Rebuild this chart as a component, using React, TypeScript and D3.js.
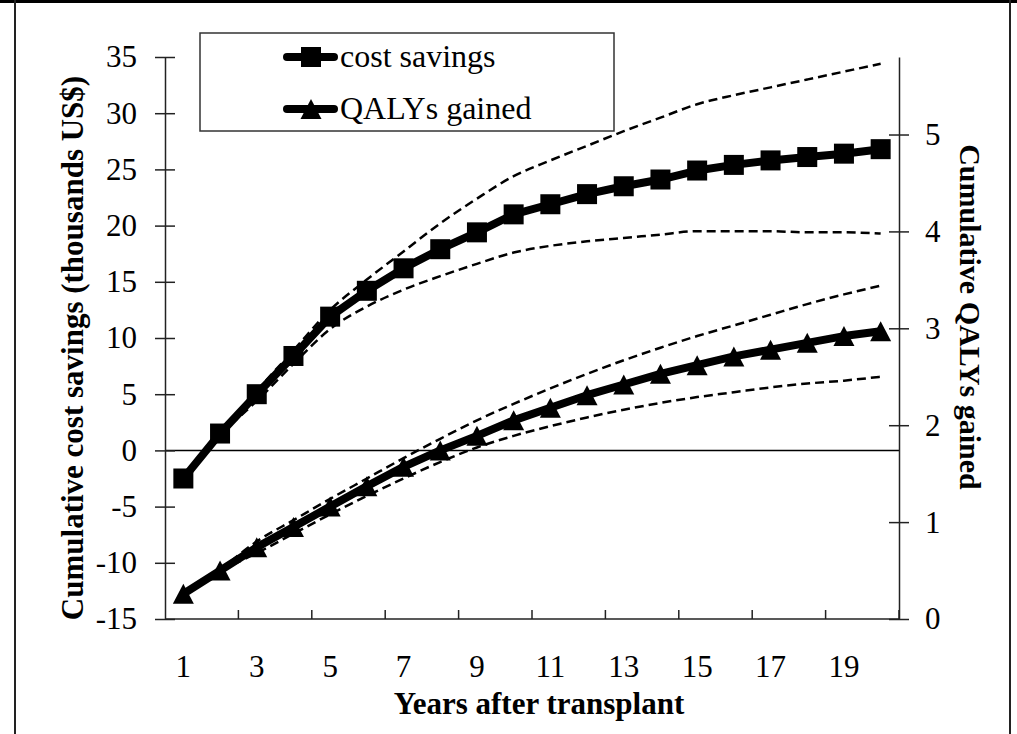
import React, { useEffect, useRef } from 'react';
import * as d3 from 'd3';

// years after transplant (categories)
const years = [1, 2, 3, 4, 5, 6, 7, 8, 9, 10, 11, 12, 13, 14, 15, 16, 17, 18, 19, 20];
const xTickLabels = [1, 3, 5, 7, 9, 11, 13, 15, 17, 19];

// cumulative cost savings, thousands US$ (left axis)
const costSavings = [-2.5, 1.5, 5.0, 8.4, 11.9, 14.2, 16.2, 17.9, 19.4, 21.0, 21.9, 22.8, 23.5, 24.1, 24.9, 25.4, 25.8, 26.1, 26.4, 26.8];
const costUpper = [null, 1.5, 5.3, 8.9, 12.5, 15.2, 17.7, 20.2, 22.4, 24.4, 25.8, 27.1, 28.4, 29.6, 30.8, 31.6, 32.3, 33.0, 33.7, 34.4];
const costLower = [null, 1.5, 4.4, 7.7, 10.8, 12.8, 14.3, 15.5, 16.6, 17.6, 18.2, 18.6, 18.9, 19.2, 19.5, 19.5, 19.5, 19.4, 19.4, 19.3];

// cumulative QALYs gained (right axis)
const qalys = [0.26, 0.50, 0.74, 0.95, 1.16, 1.37, 1.57, 1.74, 1.89, 2.05, 2.18, 2.31, 2.42, 2.53, 2.62, 2.71, 2.78, 2.85, 2.92, 2.97];
const qalyUpper = [null, 0.50, 0.80, 1.02, 1.24, 1.45, 1.66, 1.86, 2.05, 2.22, 2.38, 2.53, 2.67, 2.80, 2.92, 3.03, 3.14, 3.25, 3.35, 3.44];
const qalyLower = [null, 0.50, 0.68, 0.88, 1.08, 1.27, 1.45, 1.62, 1.77, 1.89, 1.99, 2.08, 2.16, 2.23, 2.29, 2.34, 2.39, 2.43, 2.46, 2.50];

const leftTicks = [-15, -10, -5, 0, 5, 10, 15, 20, 25, 30, 35];
const rightTicks = [0, 1, 2, 3, 4, 5];

const FONT = "'Liberation Serif', 'Times New Roman', serif";

const triPath = 'M0,-10L10.5,10L-10.5,10Z';

const App = () => {
  const svgRef = useRef<SVGSVGElement>(null);

  useEffect(() => {
    const width = 1017;
    const height = 734;
    const left = 165, right = 899, top = 57, bottom = 619;

    const svg = d3.select(svgRef.current);
    svg.selectAll('*').remove();
    svg.attr('width', width).attr('height', height);

    svg.append('rect').attr('width', width).attr('height', height).attr('fill', '#fff');

    // outer frame
    svg.append('line').attr('x1', 0).attr('x2', width).attr('y1', 1.5).attr('y2', 1.5)
      .attr('stroke', '#000').attr('stroke-width', 3);
    svg.append('line').attr('x1', 15).attr('x2', 15).attr('y1', 0).attr('y2', height)
      .attr('stroke', '#222').attr('stroke-width', 2);
    svg.append('line').attr('x1', 1010).attr('x2', 1010).attr('y1', 0).attr('y2', height)
      .attr('stroke', '#222').attr('stroke-width', 2);

    const x = d3.scaleBand<number>().domain(years).range([left, right]).padding(0);
    const xc = (d: number) => (x(d) as number) + x.bandwidth() / 2;
    const yL = d3.scaleLinear().domain([-15, 35]).range([bottom, top]);
    const yR = d3.scaleLinear().domain([0, 5.8]).range([bottom, top]);

    // zero line
    svg.append('line').attr('x1', left).attr('x2', right).attr('y1', yL(0)).attr('y2', yL(0))
      .attr('stroke', '#000').attr('stroke-width', 1.5);

    const dashed = (vals: (number | null)[], y: d3.ScaleLinear<number, number>) => {
      const line = d3.line<number | null>()
        .defined(d => d != null)
        .x((d, i) => xc(years[i]))
        .y(d => y(d as number))
        .curve(d3.curveMonotoneX);
      svg.append('path').attr('d', line(vals))
        .attr('fill', 'none').attr('stroke', '#000').attr('stroke-width', 2.5)
        .attr('stroke-dasharray', '9,5');
    };
    dashed(costUpper, yL);
    dashed(costLower, yL);
    dashed(qalyUpper, yR);
    dashed(qalyLower, yR);

    const mainLine = (vals: number[], y: d3.ScaleLinear<number, number>) => {
      const line = d3.line<number>().x((d, i) => xc(years[i])).y(d => y(d));
      svg.append('path').attr('d', line(vals))
        .attr('fill', 'none').attr('stroke', '#000').attr('stroke-width', 8)
        .attr('stroke-linejoin', 'round').attr('stroke-linecap', 'round');
    };
    mainLine(costSavings, yL);
    mainLine(qalys, yR);

    svg.append('g').selectAll('rect').data(costSavings).enter().append('rect')
      .attr('x', (d, i) => xc(years[i]) - 10).attr('y', d => yL(d) - 10)
      .attr('width', 20).attr('height', 20).attr('fill', '#000');

    svg.append('g').selectAll('path').data(qalys).enter().append('path')
      .attr('d', triPath)
      .attr('transform', (d, i) => `translate(${xc(years[i])},${yR(d)})`)
      .attr('fill', '#000');

    // left axis
    const gL = svg.append('g').attr('transform', `translate(${left},0)`)
      .call(d3.axisLeft(yL).tickValues(leftTicks).tickFormat(d => String(d))
        .tickSizeOuter(0).tickSizeInner(10));
    gL.select('.domain').attr('stroke', '#222').attr('stroke-width', 1.5);
    gL.selectAll('.tick line').attr('x1', -10).attr('x2', 10).attr('stroke', '#222').attr('stroke-width', 1.5);
    gL.selectAll('.tick text').attr('font-family', FONT).attr('font-size', 31).attr('fill', '#000')
      .attr('x', -28);

    // right axis
    const gR = svg.append('g').attr('transform', `translate(${right},0)`)
      .call(d3.axisRight(yR).tickValues(rightTicks).tickFormat(d => String(d))
        .tickSizeOuter(0).tickSizeInner(10));
    gR.select('.domain').attr('stroke', '#222').attr('stroke-width', 1.5);
    gR.selectAll('.tick line').attr('x1', -10).attr('x2', 10).attr('stroke', '#222').attr('stroke-width', 1.5);
    gR.selectAll('.tick text').attr('font-family', FONT).attr('font-size', 31).attr('fill', '#000')
      .attr('x', 26);

    // x axis
    const gX = svg.append('g').attr('transform', `translate(0,${bottom})`)
      .call(d3.axisBottom(x).tickValues(xTickLabels).tickSize(0));
    gX.select('.domain').remove();
    gX.selectAll('.tick text').attr('font-family', FONT).attr('font-size', 31).attr('fill', '#000')
      .attr('y', 58).attr('dy', 0);
    svg.append('line').attr('x1', left).attr('x2', right).attr('y1', bottom).attr('y2', bottom)
      .attr('stroke', '#222').attr('stroke-width', 1.5);
    svg.append('g').selectAll('line').data(years.filter(d => d % 2 === 0)).enter().append('line')
      .attr('x1', d => (x(d) as number) + x.bandwidth()).attr('x2', d => (x(d) as number) + x.bandwidth())
      .attr('y1', bottom).attr('y2', bottom - 9)
      .attr('stroke', '#222').attr('stroke-width', 1.5);

    // axis titles
    svg.append('text').attr('x', 539).attr('y', 714)
      .attr('text-anchor', 'middle').attr('font-family', FONT).attr('font-weight', 'bold')
      .attr('font-size', 31).text('Years after transplant');
    svg.append('text').attr('transform', `translate(83,348) rotate(-90)`)
      .attr('text-anchor', 'middle').attr('font-family', FONT).attr('font-weight', 'bold')
      .attr('font-size', 31).text('Cumulative cost savings (thousands US$)');
    svg.append('text').attr('transform', `translate(960,317) rotate(90)`)
      .attr('text-anchor', 'middle').attr('font-family', FONT).attr('font-weight', 'bold')
      .attr('font-size', 30).text('Cumulative QALYs gained');

    // legend
    const lg = svg.append('g');
    lg.append('rect').attr('x', 200).attr('y', 33).attr('width', 414).attr('height', 98)
      .attr('fill', '#fff').attr('stroke', '#333').attr('stroke-width', 1.5);
    const items = [
      { label: 'cost savings', y: 57, marker: 'square' },
      { label: 'QALYs gained', y: 109, marker: 'triangle' },
    ];
    items.forEach(it => {
      lg.append('line').attr('x1', 287).attr('x2', 334).attr('y1', it.y).attr('y2', it.y)
        .attr('stroke', '#000').attr('stroke-width', 8).attr('stroke-linecap', 'round');
      if (it.marker === 'square') {
        lg.append('rect').attr('x', 301).attr('y', it.y - 10).attr('width', 20).attr('height', 20).attr('fill', '#000');
      } else {
        lg.append('path').attr('d', triPath).attr('transform', `translate(311,${it.y})`).attr('fill', '#000');
      }
      lg.append('text').attr('x', 340).attr('y', it.y + 10).attr('font-family', FONT)
        .attr('font-size', 32).text(it.label);
    });
  }, []);

  return (
    <div style={{ position: 'absolute', left: 0, top: 0 }}>
      <svg ref={svgRef} style={{ display: 'block' }}></svg>
    </div>
  );
};

export default App;
